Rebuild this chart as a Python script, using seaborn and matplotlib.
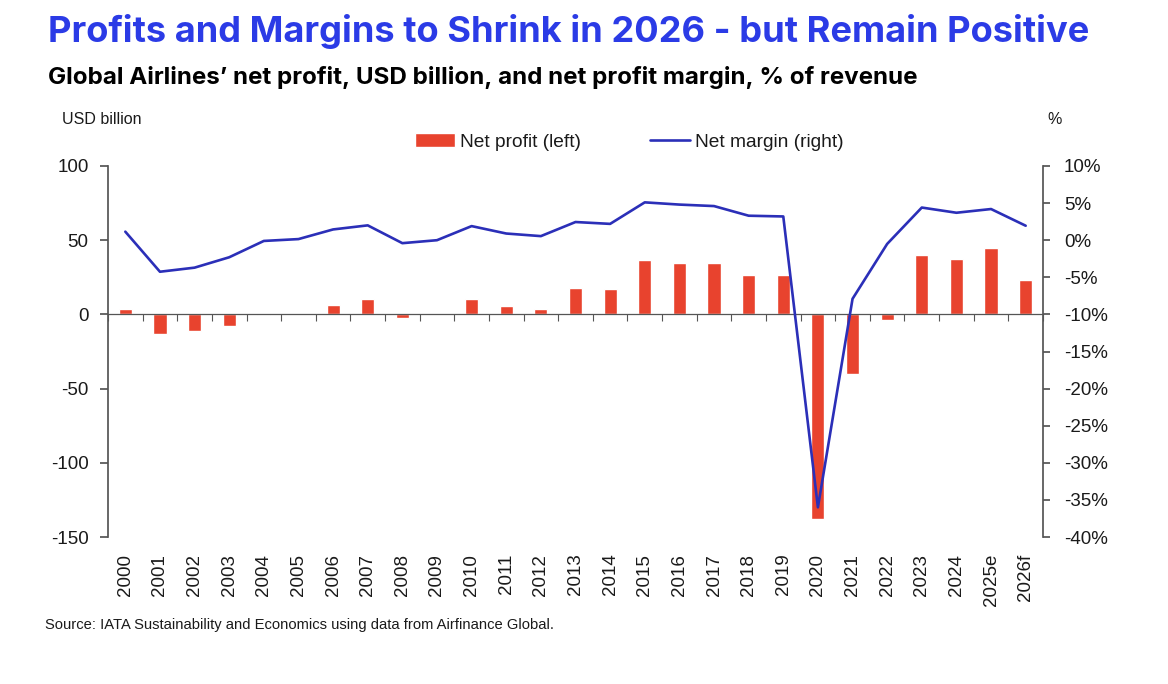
import numpy as np
import pandas as pd
import matplotlib
matplotlib.use("Agg")
import matplotlib.pyplot as plt
from matplotlib.ticker import (FuncFormatter, MultipleLocator, FixedLocator,
                               FixedFormatter, NullFormatter)
import seaborn as sns

years = ["2000", "2001", "2002", "2003", "2004", "2005", "2006", "2007", "2008", "2009",
         "2010", "2011", "2012", "2013", "2014", "2015", "2016", "2017", "2018", "2019",
         "2020", "2021", "2022", "2023", "2024", "2025e", "2026f"]
net_profit = [3.7, -13.0, -11.5, -7.6, -0.1, 0.5, 6.5, 10.3, -2.2, 0.0,
              10.6, 5.6, 3.8, 17.5, 17.3, 36.6, 34.6, 34.8, 26.7, 26.5,
              -137.7, -40.3, -3.5, 40.2, 37.5, 45.0, 22.9]
net_margin = [1.15, -4.25, -3.7, -2.3, -0.1, 0.15, 1.45, 2.0, -0.4, 0.0,
              1.9, 0.9, 0.55, 2.45, 2.2, 5.1, 4.8, 4.6, 3.3, 3.2,
              -36.0, -7.9, -0.5, 4.4, 3.7, 4.2, 1.95]

BAR = "#e8432e"
LINE = "#2b2fb8"
TITLE = "#2b3be6"
AXIS = "#555555"

sns.set_theme(style="white")
plt.rcParams["font.family"] = ["Liberation Sans", "DejaVu Sans"]
plt.rcParams["axes.unicode_minus"] = False
plt.rcParams["text.color"] = "#1a1a1a"
plt.rcParams["xtick.color"] = "#1a1a1a"
plt.rcParams["ytick.color"] = "#1a1a1a"

df = pd.DataFrame({"year": years, "profit": net_profit, "margin": net_margin,
                   "pos": np.arange(len(years))})

fig, ax = plt.subplots(figsize=(11.68, 6.84), dpi=100)
fig.subplots_adjust(left=108/1168, right=1043/1168, top=1-166/684, bottom=1-537/684)

sns.barplot(data=df, x="year", y="profit", color=BAR, width=0.38,
            saturation=1, ax=ax, label="Net profit (left)")
ax.set_xlim(-0.5, len(years) - 0.5)
ax.set_ylim(-150, 100)
ax.yaxis.set_major_locator(MultipleLocator(50))
ax.set_xlabel("")
ax.set_ylabel("")

ax2 = ax.twinx()
sns.lineplot(data=df, x="pos", y="margin", color=LINE, linewidth=1.9, ax=ax2,
             label="Net margin (right)", legend=False)
ax2.set_ylim(-40, 10)
ax2.yaxis.set_major_locator(MultipleLocator(5))
ax2.yaxis.set_major_formatter(FuncFormatter(lambda v, p: f"{v:.0f}%"))
ax2.set_ylabel("")
ax2.set_xlabel("")

h1, l1 = ax.get_legend_handles_labels()
h2, l2 = ax2.get_legend_handles_labels()
if ax.get_legend() is not None:
    ax.get_legend().remove()

# x axis: zero line with boundary ticks (ax), year labels at the bottom (ax2)
pos = np.arange(len(years))
ax.xaxis.set_major_locator(FixedLocator(np.append(pos - 0.5, pos[-1] + 0.5)))
ax.xaxis.set_major_formatter(NullFormatter())
ax.xaxis.set_minor_locator(FixedLocator(pos))
ax.xaxis.set_minor_formatter(FixedFormatter(years))
ax.spines["bottom"].set_position(("data", 0))
ax.spines["bottom"].set_color(AXIS)
ax.spines["bottom"].set_linewidth(0.9)
ax.tick_params(axis="x", which="major", bottom=True, direction="out", length=5,
               width=0.8, color=AXIS, labelbottom=False)
ax.tick_params(axis="x", which="minor", bottom=False, length=0, labelbottom=False)

ax2.xaxis.set_visible(True)
ax2.xaxis.tick_bottom()
ax2.tick_params(axis="x", which="major", bottom=False, top=False, length=0,
                labelbottom=False)
ax2.tick_params(axis="x", which="minor", bottom=False, top=False, length=0,
                labelbottom=True, labelrotation=90, labelsize=13.5, pad=12)

ax.spines["top"].set_visible(False)
ax.spines["right"].set_visible(False)
for s in ("top", "bottom", "left"):
    ax2.spines[s].set_visible(False)
ax.spines["left"].set_color(AXIS)
ax2.spines["right"].set_color(AXIS)

ax.tick_params(axis="y", left=True, direction="out", length=6, color=AXIS,
               labelsize=13.5, pad=8)
ax2.tick_params(axis="y", right=True, direction="out", length=5, color=AXIS,
                labelsize=13.5, pad=10)

fig.legend(h1 + h2, l1 + l2, loc="center", bbox_to_anchor=(629/1168, 1-142/684),
           ncol=2, frameon=False, fontsize=13.8, columnspacing=3.6,
           handlelength=2.1, handletextpad=0.25)

fig.text(48/1168, 1-14/684, "Profits and Margins to Shrink in 2026 - but Remain Positive",
         color=TITLE, fontsize=26.1, fontweight="bold", family=["Inter", "DejaVu Sans"],
         va="top", ha="left")
fig.text(48/1168, 1-66/684,
         "Global Airlines\u2019 net profit, USD billion, and net profit margin, % of revenue",
         color="black", fontsize=17.4, fontweight="bold", family=["Inter", "DejaVu Sans"],
         va="top", ha="left")
fig.text(62/1168, 1-120/684, "USD billion", fontsize=11.5, va="center", ha="left")
fig.text(1047/1168, 1-120/684, "%", fontsize=11.5, va="center", ha="left")
fig.text(45/1168, 1-625/684,
         "Source: IATA Sustainability and Economics using data from Airfinance Global.",
         fontsize=10.6, va="center", ha="left")

fig.savefig("out.png", dpi=100)
